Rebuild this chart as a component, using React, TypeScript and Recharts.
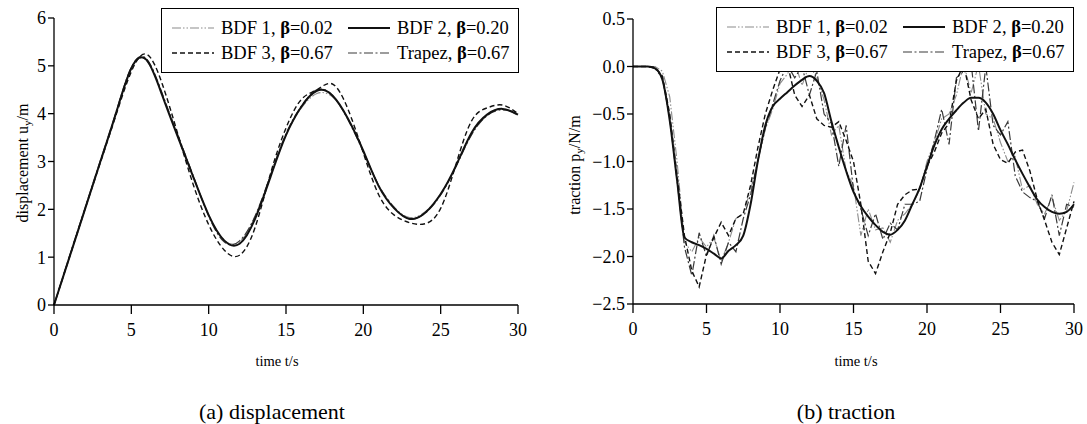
import React from 'react';
import { LineChart, Line, XAxis, YAxis } from 'recharts';

const FONT = '"Liberation Serif", "Times New Roman", serif';

// (a) displacement, sampled every second
const dispTime = [0, 1, 2, 3, 4, 5, 6, 7, 8, 9, 10, 11, 12, 13, 14, 15, 16, 17, 18, 19, 20, 21, 22, 23, 24, 25, 26, 27, 28, 29, 30];
const dispBdf1 = [0, 1.0, 2.0, 3.0, 4.0, 4.96, 5.1, 4.4, 3.55, 2.7, 1.88, 1.36, 1.32, 1.85, 2.7, 3.55, 4.12, 4.42, 4.35, 3.9, 3.22, 2.5, 2.04, 1.83, 1.95, 2.32, 2.9, 3.56, 3.96, 4.1, 3.96];
const dispBdf2 = [0, 1.0, 2.0, 3.0, 4.0, 4.95, 5.12, 4.38, 3.52, 2.68, 1.88, 1.35, 1.28, 1.8, 2.68, 3.55, 4.15, 4.48, 4.38, 3.9, 3.22, 2.48, 2.02, 1.8, 1.93, 2.32, 2.92, 3.6, 3.98, 4.1, 3.98];
const dispBdf3 = [0, 1.0, 2.0, 2.98, 3.96, 4.88, 5.24, 4.62, 3.58, 2.52, 1.68, 1.15, 1.04, 1.62, 2.75, 3.7, 4.3, 4.5, 4.62, 4.1, 3.18, 2.3, 1.88, 1.72, 1.7, 2.02, 2.95, 3.85, 4.12, 4.18, 4.0];
const dispTrapez = [0, 1.02, 2.02, 3.02, 4.02, 4.97, 5.14, 4.42, 3.56, 2.7, 1.86, 1.32, 1.34, 1.86, 2.72, 3.58, 4.16, 4.5, 4.38, 3.88, 3.2, 2.5, 2.04, 1.8, 1.92, 2.3, 2.9, 3.56, 3.96, 4.08, 4.02];

// (b) traction, sampled every half second
const tracTime = [
  0, 0.5, 1, 1.5, 2, 2.5, 3, 3.5, 4, 4.5,
  5, 5.5, 6, 6.5, 7, 7.5, 8, 8.5, 9, 9.5,
  10, 10.5, 11, 11.5, 12, 12.5, 13, 13.5, 14, 14.5,
  15, 15.5, 16, 16.5, 17, 17.5, 18, 18.5, 19, 19.5,
  20, 20.5, 21, 21.5, 22, 22.5, 23, 23.5, 24, 24.5,
  25, 25.5, 26, 26.5, 27, 27.5, 28, 28.5, 29, 29.5,
  30,
];
const tracBdf1 = [
  0, 0, 0, 0, -0.05, -0.32, -1.0, -1.85, -1.95, -1.8,
  -1.9, -1.8, -2.05, -1.85, -1.6, -1.55, -1.3, -1.0, -0.66, -0.45,
  -0.18, -0.08, 0.05, -0.2, 0.02, -0.12, -0.35, -0.72, -0.62, -1.1,
  -1.25, -1.78, -1.5, -1.72, -1.7, -1.85, -1.62, -1.55, -1.45, -1.3,
  -1.0, -0.8, -0.55, -0.5, -0.3, 0.03, -0.28, 0.02, -0.5, -0.55,
  -0.8, -1.0, -0.95, -1.3, -1.25, -1.45, -1.55, -1.38, -1.62, -1.52,
  -1.22,
];
const tracBdf2 = [
  0, 0, 0, -0.02, -0.14, -0.57, -1.2, -1.8, -1.85, -1.88,
  -1.92, -1.97, -2.02, -1.94, -1.88, -1.78, -1.45, -0.99, -0.62, -0.42,
  -0.34, -0.27, -0.2, -0.14, -0.1, -0.15, -0.28, -0.58, -0.85, -1.1,
  -1.32, -1.47, -1.58, -1.67, -1.74, -1.77, -1.72, -1.62, -1.45, -1.28,
  -1.05, -0.83, -0.66, -0.55, -0.46, -0.38, -0.33, -0.33, -0.38, -0.5,
  -0.67, -0.82, -0.98, -1.13, -1.27, -1.4, -1.48, -1.53, -1.55, -1.53,
  -1.45,
];
const tracBdf3 = [
  0, 0, 0, -0.01, -0.1, -0.5, -1.15, -1.78, -2.15, -2.32,
  -1.98, -1.8, -1.64, -1.78, -1.6, -1.55, -1.25, -0.85, -0.5, -0.25,
  -0.03, 0.03, -0.3, -0.42, -0.3, -0.55, -0.62, -0.64, -0.58, -0.78,
  -1.0, -1.45, -2.05, -2.18, -1.95, -1.75, -1.45, -1.35, -1.3, -1.29,
  -1.05, -0.9, -0.7, -0.6, -0.15, 0.02, -0.35, -0.55, -0.45, -0.82,
  -0.98, -1.02, -0.9, -0.88, -1.1, -1.4, -1.62, -1.85, -1.98, -1.7,
  -1.42,
];
const tracTrapez = [
  0, 0, 0, -0.02, -0.12, -0.55, -1.2, -1.9, -2.2, -1.75,
  -2.0, -1.78, -2.08, -1.85, -1.95, -1.6, -1.35, -0.98, -0.65, -0.4,
  -0.15, 0.02, -0.12, 0.0, -0.3, -0.05, -0.5, -0.6, -1.05, -0.62,
  -1.3, -1.5, -1.78, -1.55, -1.82, -1.65, -1.72, -1.45, -1.45, -1.42,
  -1.08, -0.78, -0.45, -0.82, -0.12, -0.05, 0.04, -0.68, 0.0, -0.62,
  -0.72, -0.58, -1.15, -1.32, -1.38, -1.42, -1.6, -1.35, -1.78, -1.45,
  -1.48,
];

const timeTicks = [0, 5, 10, 15, 20, 25, 30];
const dispTicks = [0, 1, 2, 3, 4, 5, 6];
const tracTicks = [-2.5, -2, -1.5, -1, -0.5, 0, 0.5];

const seriesKeys = ['bdf1', 'bdf2', 'bdf3', 'trapez'];
const seriesNames = ['BDF 1', 'BDF 2', 'BDF 3', 'Trapez'];
const seriesBeta = ['0.02', '0.20', '0.67', '0.67'];

// line look per method
const lineStyle: Record<string, { stroke: string; width: number; dash?: string }> = {
  bdf1: { stroke: '#8c8c8c', width: 1.1, dash: '9 2 1.5 2 1.5 2' },
  bdf2: { stroke: '#111', width: 2, dash: undefined },
  bdf3: { stroke: '#111', width: 1.4, dash: '5 3' },
  trapez: { stroke: '#3a3a3a', width: 1.2, dash: '9 2.5 2 2.5' },
};

const dispRows = dispTime.map((t, i) => ({
  t, bdf1: dispBdf1[i], bdf2: dispBdf2[i], bdf3: dispBdf3[i], trapez: dispTrapez[i],
}));
const tracRows = tracTime.map((t, i) => ({
  t, bdf1: tracBdf1[i], bdf2: tracBdf2[i], bdf3: tracBdf3[i], trapez: tracTrapez[i],
}));

const axisStroke = { stroke: '#000', strokeWidth: 1.3 };
const tickFont = { fill: '#000', fontSize: 18, fontFamily: FONT, style: { fontFamily: FONT } };
const drawOrder = ['bdf1', 'trapez', 'bdf3', 'bdf2'];

const fmtTraction = (v: number) => (v < 0 ? '\u2212' : '') + Math.abs(v).toFixed(1);

const LegendBox = ({ left, top }: { left: number; top: number }) => {
  // two rows: BDF 1 | BDF 2, BDF 3 | Trapez
  return (
    <div
      style={{
        position: 'absolute', left, top, width: 358, height: 65, boxSizing: 'border-box',
        border: '1.5px solid #000', background: '#fff', fontFamily: FONT, fontSize: 18.5,
        color: '#000', display: 'grid', gridTemplateColumns: '176px auto', alignContent: 'center',
        rowGap: 4, paddingLeft: 10, lineHeight: '21px', whiteSpace: 'nowrap',
      }}
    >
      {seriesKeys.map((k, i) => {
        const s = lineStyle[k];
        return (
          <div key={k} style={{ display: 'flex', alignItems: 'center' }}>
            <svg width={42} height={10} style={{ display: 'block' }}>
              <line x1={0} y1={5} x2={42} y2={5} stroke={s.stroke} strokeWidth={s.width} strokeDasharray={s.dash} />
            </svg>
            <span style={{ marginLeft: 7 }}>
              {seriesNames[i]}, <b>β</b>={seriesBeta[i]}
            </span>
          </div>
        );
      })}
    </div>
  );
};

const renderLines = (linear: boolean) =>
  drawOrder.map((k) => {
    const s = lineStyle[k];
    const type = linear ? (k === 'bdf2' ? 'monotone' : 'linear') : 'natural';
    return (
      <Line
        key={k}
        type={type as any}
        dataKey={k}
        stroke={s.stroke}
        strokeWidth={s.width}
        strokeDasharray={s.dash}
        dot={false}
        activeDot={false}
        isAnimationActive={false}
      />
    );
  });

const labelText = { fontFamily: FONT } as React.CSSProperties;

const DisplacementChart = () => (
  <LineChart width={540} height={380} data={dispRows} margin={{ top: 18, right: 22, left: 0, bottom: 0 }}>
    <XAxis
      type="number" dataKey="t" domain={[0, 30]} ticks={timeTicks} height={75}
      tickSize={9} tickMargin={9} axisLine={axisStroke} tickLine={axisStroke} tick={tickFont}
      label={{
        value: 'time t/s',
        content: () => (
          <text x={277} y={366} textAnchor="middle" fontSize={14.5} style={labelText} fill="#000">time t/s</text>
        ),
      }}
    />
    <YAxis
      type="number" domain={[0, 6]} ticks={dispTicks} width={54}
      tickSize={6} tickMargin={2} axisLine={axisStroke} tickLine={axisStroke} tick={tickFont}
      label={{
        value: 'displacement',
        content: () => (
          <text transform="translate(28,163) rotate(-90)" textAnchor="middle" fontSize={16} style={labelText} fill="#000">
            displacement u<tspan dy={3} fontSize={11}>y</tspan><tspan dy={-3}>/m</tspan>
          </text>
        ),
      }}
    />
    {renderLines(false)}
  </LineChart>
);

const TractionChart = () => (
  <LineChart width={547} height={380} data={tracRows} margin={{ top: 19, right: 13, left: 0, bottom: 0 }}>
    <XAxis
      type="number" dataKey="t" domain={[0, 30]} ticks={timeTicks} height={76}
      tickSize={9} tickMargin={9} axisLine={axisStroke} tickLine={axisStroke} tick={tickFont}
      label={{
        value: 'time t/s',
        content: () => (
          <text x={316} y={366} textAnchor="middle" fontSize={14.5} style={labelText} fill="#000">time t/s</text>
        ),
      }}
    />
    <YAxis
      type="number" domain={[-2.5, 0.5]} ticks={tracTicks} width={93} allowDataOverflow
      tickSize={6} tickMargin={2} axisLine={axisStroke} tickLine={axisStroke} tick={tickFont}
      tickFormatter={fmtTraction}
      label={{
        value: 'traction',
        content: () => (
          <text transform="translate(40,165) rotate(-90)" textAnchor="middle" fontSize={16} style={labelText} fill="#000">
            traction p<tspan dy={3} fontSize={11}>y</tspan><tspan dy={-3}>/N/m</tspan>
          </text>
        ),
      }}
    />
    {renderLines(true)}
  </LineChart>
);

const captionStyle: React.CSSProperties = {
  position: 'absolute', top: 399, width: 300, textAlign: 'center',
  fontFamily: FONT, fontSize: 22, lineHeight: '26px', color: '#000',
};

export default function App() {
  return (
    <div style={{ position: 'absolute', left: 0, top: 0, width: 1087, height: 424, background: '#fff', overflow: 'hidden', fontFamily: FONT }}>
      <div style={{ position: 'absolute', left: 0, top: 0 }}>
        <DisplacementChart />
      </div>
      <div style={{ position: 'absolute', left: 540, top: 0 }}>
        <TractionChart />
      </div>
      <LegendBox left={161} top={8} />
      <LegendBox left={716} top={7} />
      <div style={{ ...captionStyle, left: 272 - 150 }}>(a) displacement</div>
      <div style={{ ...captionStyle, left: 846 - 150 }}>(b) traction</div>
    </div>
  );
}
